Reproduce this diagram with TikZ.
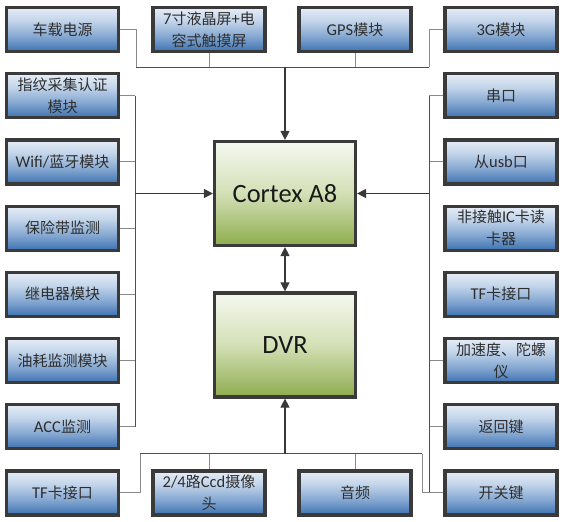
\documentclass[tikz,border=0pt]{standalone}
\usepackage{fontspec}
\setmainfont{Carlito}[Scale=1.1]
\newfontfamily\cjk{Noto Sans CJK SC}
\usetikzlibrary{arrows.meta,shadows}
\definecolor{blueT}{HTML}{E6EDF6}
\definecolor{blueU}{HTML}{C3D5EA}
\definecolor{blueM}{HTML}{84A7D1}
\definecolor{blueB}{HTML}{3E72B1}
\definecolor{greenT}{HTML}{F6F8F0}
\definecolor{greenM}{HTML}{D3E0B6}
\definecolor{greenB}{HTML}{8EAC4E}
\definecolor{bordc}{HTML}{3A3A3A}
\definecolor{txtc}{HTML}{2E2E2E}
\definecolor{stubc}{HTML}{8A8A8A}
\definecolor{busc}{HTML}{505050}
\definecolor{arrc}{HTML}{383838}
\definecolor{shadc}{HTML}{C9D6E6}
\pgfdeclareverticalshading{blueshade}{100bp}{color(0bp)=(blueB); color(25bp)=(blueB); color(42bp)=(blueM); color(60bp)=(blueU); color(75bp)=(blueT); color(100bp)=(blueT)}
\pgfdeclareverticalshading{greenshade}{100bp}{color(0bp)=(greenB); color(25bp)=(greenB); color(50bp)=(greenM); color(75bp)=(greenT); color(100bp)=(greenT)}
\tikzset{
  bbox/.style={draw=bordc, line width=3.2pt, shading=blueshade, minimum width=112pt, minimum height=44pt,
    inner sep=1pt, align=center, text=txtc, font=\fontsize{15}{22}\selectfont,
    drop shadow={shadow xshift=1.5pt, shadow yshift=-1.5pt, fill=shadc, opacity=0.8}},
  gbox/.style={draw=bordc, line width=3.2pt, shading=greenshade, minimum width=141pt, minimum height=104pt,
    align=center, text=black!90, font=\fontsize{24}{30}\selectfont,
    drop shadow={shadow xshift=1.5pt, shadow yshift=-1.5pt, fill=black!12, opacity=0.8}},
  stub/.style={draw=stubc, line width=1pt},
  bus/.style={draw=busc, line width=1pt},
  arr/.style={draw=arrc, line width=1.2pt, -{Triangle[length=9pt,width=9pt]}},
  darr/.style={draw=arrc, line width=1.2pt, {Triangle[length=9pt,width=9pt]}-{Triangle[length=9pt,width=9pt]}}
}
\begin{document}
\begin{tikzpicture}[x=1pt,y=-1pt]
\useasboundingbox (0,0) rectangle (565,522);
% nodes
\node[gbox] (cpu) at (285,193.5) {Cortex A8};
\node[gbox] (dvr) at (285,345) {DVR};
\node[bbox] (che) at (62.5,29.5) {\cjk 车载电源};
\node[bbox] (lcd) at (209,29.5) {7{\cjk 寸液晶屏}+{\cjk 电}\\{\cjk 容式触摸屏}};
\node[bbox] (gps) at (355,29.5) {GPS{\cjk 模块}};
\node[bbox] (g3) at (501,29.5) {3G{\cjk 模块}};
\node[bbox] (zw) at (62.5,95.7) {{\cjk 指纹采集认证}\\{\cjk 模块}};
\node[bbox] (wifi) at (62.5,161.9) {Wifi/{\cjk 蓝牙模块}};
\node[bbox] (bxd) at (62.5,228.1) {\cjk 保险带监测};
\node[bbox] (jdq) at (62.5,294.3) {\cjk 继电器模块};
\node[bbox] (yh) at (62.5,360.5) {\cjk 油耗监测模块};
\node[bbox] (acc) at (62.5,426.7) {ACC{\cjk 监测}};
\node[bbox] (tfl) at (62.5,492.9) {TF{\cjk 卡接口}};
\node[bbox] (ccd) at (209,492.9) {2/4{\cjk 路}Ccd{\cjk 摄像}\\{\cjk 头}};
\node[bbox] (yp) at (355,492.9) {\cjk 音频};
\node[bbox] (kgj) at (501,492.9) {\cjk 开关键};
\node[bbox] (ck) at (501,95.7) {\cjk 串口};
\node[bbox] (usb) at (501,161.9) {{\cjk 从}usb{\cjk 口}};
\node[bbox] (ic) at (501,228.1) {{\cjk 非接触}IC{\cjk 卡读}\\{\cjk 卡器}};
\node[bbox] (tfr) at (501,294.3) {TF{\cjk 卡接口}};
\node[bbox] (jsd) at (501,360.5) {{\cjk 加速度、陀螺}\\{\cjk 仪}};
\node[bbox] (fhj) at (501,426.7) {\cjk 返回键};
% junction coordinates
\coordinate (tj) at (285,67);
\coordinate (tl) at (136,67);
\coordinate (tr) at (429,67);
\coordinate (lbt) at (135,95.7);
\coordinate (lbb) at (135,426.7);
\coordinate (lj) at (135,193.5);
\coordinate (rbt) at (429,95.7);
\coordinate (rbb) at (429,492.9);
\coordinate (rj) at (429,193.5);
\coordinate (bj) at (285,453.5);
\coordinate (bl) at (140,453.5);
\coordinate (br) at (422,453.5);
% top
\draw[stub] (che.east) -| (tl);
\draw[stub] (lcd.south) -- (lcd.south |- tj);
\draw[stub] (gps.south) -- (gps.south |- tj);
\draw[stub] (g3.west) -| (tr);
\draw[bus] (tl) -- (tr);
\draw[arr] (tj) -- (cpu.north);
% left
\foreach \n in {zw,wifi,bxd,jdq,yh,acc} \draw[stub] (\n.east) -- (\n.east -| lj);
\draw[bus] (lbt) -- (lbb);
\draw[arr] (lj) -- (cpu.west);
% right
\foreach \n in {ck,usb,jsd,fhj,kgj} \draw[stub] (\n.west) -- (\n.west -| rj);
\draw[bus] (rbt) -- (rbb);
\draw[arr] (rj) -- (cpu.east);
% bottom
\draw[stub] (tfl.east) -| (bl);
\draw[stub] (ccd.north) -- (ccd.north |- bj);
\draw[stub] (yp.north) -- (yp.north |- bj);
\draw[stub] (kgj.west) -| (br);
\draw[bus] (bl) -- (br);
\draw[arr] (bj) -- (dvr.south);
% cpu-dvr
\draw[darr] (cpu.south) -- (dvr.north);
\end{tikzpicture}
\end{document}
